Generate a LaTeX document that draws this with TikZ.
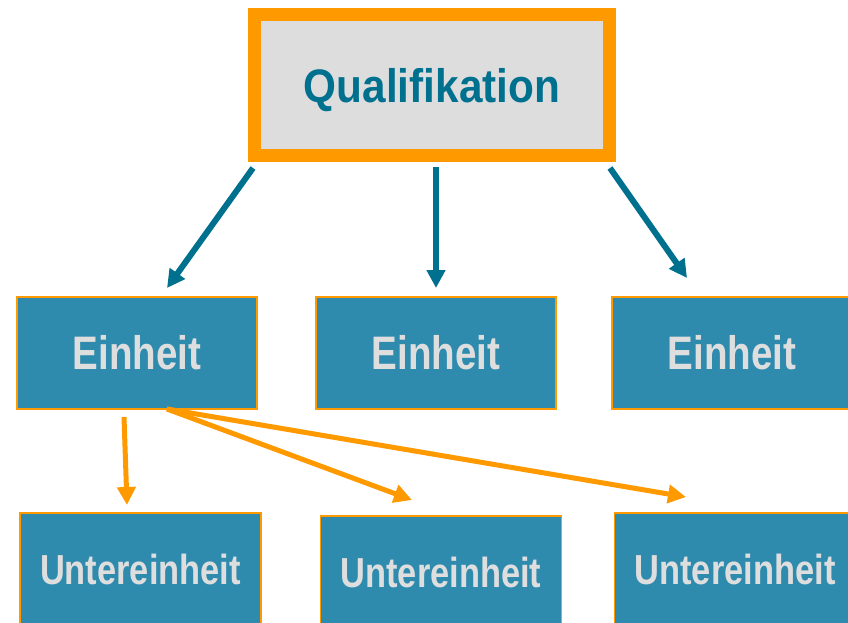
\documentclass[tikz,border=0pt]{standalone}
\usepackage{fontspec}
\setmainfont{Liberation Sans}
\usetikzlibrary{arrows.meta}
\definecolor{qorange}{RGB}{255,153,0}
\definecolor{qteal}{RGB}{0,112,143}
\definecolor{qbox}{RGB}{46,139,174}
\definecolor{qgray}{RGB}{221,221,221}
\definecolor{qtext}{RGB}{222,222,222}
\tikzset{
  topbox/.style={draw=qorange, line width=13pt, fill=qgray, minimum width=355pt, minimum height=141pt, inner sep=0pt, text height=34pt, text depth=0pt, text=qteal, font=\bfseries\fontsize{47}{50}\selectfont},
  unitbox/.style={draw=qorange, line width=1.5pt, fill=qbox, minimum width=240pt, minimum height=112pt, inner sep=0pt, text=qtext, font=\bfseries\fontsize{47}{50}\selectfont},
  subbox/.style={draw=qorange, line width=1.5pt, fill=qbox, minimum width=241pt, minimum height=112pt, inner sep=0pt, text=qtext, font=\bfseries\fontsize{42}{45}\selectfont},
  tealarrow/.style={draw=qteal, line width=6pt, -{Triangle[length=18pt,width=18pt]}},
  orangearrow/.style={draw=qorange, line width=5pt, -{Triangle[length=18pt,width=18pt]}}
}
\begin{document}
\begin{tikzpicture}[x=1pt,y=-1pt]
\useasboundingbox (0,0) rectangle (848,622);
\clip (0,0) rectangle (848,622);
\node[topbox] (q) at (432,85) {\scalebox{0.9}[1]{Qualifikation}};
\node[unitbox] (e1) at (137,353) {\scalebox{0.82}[1]{Einheit}};
\node[unitbox] (e2) at (436,353) {\scalebox{0.82}[1]{Einheit}};
\node[unitbox] (e3) at (732,353) {\scalebox{0.82}[1]{Einheit}};
\node[subbox] (u1) at (140.5,569) {\scalebox{0.82}[1]{Untereinheit}};
\node[subbox] (u2) at (441,572) {\scalebox{0.82}[1]{Untereinheit}};
\node[subbox] (u3) at (735,569) {\scalebox{0.82}[1]{Untereinheit}};
% arrow end points
\coordinate (qa1) at (253,168);
\coordinate (qa2) at (436,167);
\coordinate (qa3) at (610,168);
\coordinate (ea1) at (167,288);
\coordinate (ea2) at (436,288);
\coordinate (ea3) at (687,278);
\coordinate (es1) at (124,417);
\coordinate (es2) at (167,409);
\coordinate (ua1) at (127,505);
\coordinate (ua2) at (412,500);
\coordinate (ua3) at (686,497);
\draw[tealarrow] (qa1) -- (ea1);
\draw[tealarrow] (qa2) -- (ea2);
\draw[tealarrow] (qa3) -- (ea3);
\draw[orangearrow] (es1) -- (ua1);
\draw[orangearrow] (es2) -- (ua2);
\draw[orangearrow] (es2) -- (ua3);
\end{tikzpicture}
\end{document}
